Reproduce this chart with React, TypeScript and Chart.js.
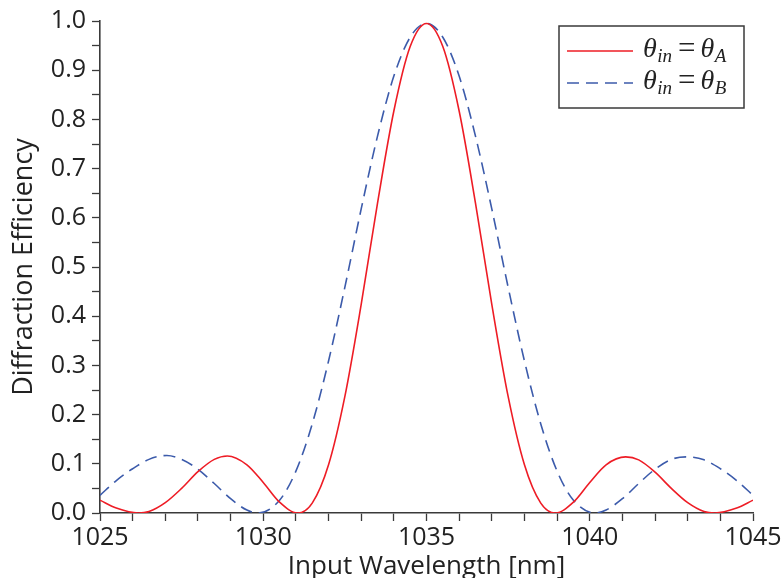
import React, { useEffect, useRef } from 'react';
import { Chart, registerables } from 'chart.js';

Chart.register(...registerables);

// Wavelength samples [nm] and diffraction efficiency
const redWavelength = [1025, 1025.5, 1026.17, 1026.5, 1027, 1027.5, 1028, 1028.5, 1028.9, 1029.5, 1030, 1030.5, 1031.05, 1031.5, 1032, 1032.5, 1033, 1033.5, 1034, 1034.5, 1035, 1035.5, 1036, 1036.5, 1037, 1037.5, 1038, 1038.5, 1038.95, 1039.5, 1040, 1040.5, 1041.1, 1041.5, 1042, 1042.5, 1043, 1043.5, 1043.83, 1044.5, 1045];
const redEfficiency = [0.026, 0.010, 0, 0.003, 0.021, 0.050, 0.084, 0.109, 0.116, 0.098, 0.062, 0.022, 0, 0.020, 0.098, 0.237, 0.424, 0.630, 0.817, 0.948, 0.995, 0.948, 0.817, 0.630, 0.424, 0.237, 0.098, 0.020, 0, 0.022, 0.062, 0.098, 0.114, 0.108, 0.083, 0.050, 0.021, 0.003, 0, 0.010, 0.026];

const blueWavelength = [1025, 1025.5, 1026, 1026.5, 1027.05, 1027.5, 1028, 1028.5, 1029, 1029.5, 1029.84, 1030.5, 1031, 1031.5, 1032, 1032.5, 1033, 1033.5, 1034, 1034.5, 1035, 1035.5, 1036, 1036.5, 1037, 1037.5, 1038, 1038.5, 1039, 1039.5, 1040.16, 1040.5, 1041, 1041.5, 1042, 1042.5, 1042.95, 1043.5, 1044, 1044.5, 1045];
const blueEfficiency = [0.036, 0.066, 0.090, 0.109, 0.117, 0.109, 0.089, 0.060, 0.029, 0.006, 0, 0.026, 0.085, 0.181, 0.309, 0.459, 0.618, 0.766, 0.888, 0.967, 0.995, 0.967, 0.888, 0.766, 0.618, 0.459, 0.309, 0.181, 0.085, 0.026, 0, 0.006, 0.029, 0.060, 0.089, 0.109, 0.114, 0.108, 0.090, 0.066, 0.036];

const seriesNames = ['θin = θA', 'θin = θB'];
const legendSubscripts = ['A', 'B'];

const xTitle = 'Input Wavelength [nm]';
const yTitle = 'Diffraction Efficiency';

const AXIS_COLOR = '#3a3a3a';
const TEXT_COLOR = '#222222';

export default function App() {
  const ref = useRef<HTMLCanvasElement>(null);

  useEffect(() => {
    const canvas = ref.current;
    if (!canvas) return;

    const legendPlugin = {
      id: 'mathLegend',
      afterDraw(chart: any) {
        const c = chart.ctx as CanvasRenderingContext2D;
        const area = chart.chartArea;
        const bw = 185;
        const bh = 82;
        const bx = area.right - 9 - bw;
        const by = area.top + 5;
        c.save();
        c.fillStyle = '#ffffff';
        c.fillRect(bx, by, bw, bh);
        c.strokeStyle = AXIS_COLOR;
        c.lineWidth = 1.5;
        c.strokeRect(bx, by, bw, bh);
        chart.data.datasets.forEach((ds: any, i: number) => {
          const ly = by + 25 + i * 32;
          c.save();
          c.strokeStyle = ds.borderColor;
          c.lineWidth = ds.borderWidth;
          c.setLineDash(ds.borderDash || []);
          c.beginPath();
          c.moveTo(bx + 8, ly);
          c.lineTo(bx + 74, ly);
          c.stroke();
          c.restore();

          const base = ly + 6;
          let x = bx + 84;
          c.fillStyle = TEXT_COLOR;
          c.textBaseline = 'alphabetic';
          c.textAlign = 'left';
          c.font = 'italic 28px "Liberation Serif"';
          c.fillText('θ', x, base);
          x += c.measureText('θ').width + 0.5;
          c.font = 'italic 19px "Liberation Serif"';
          c.fillText('in', x, base + 5);
          x += c.measureText('in').width + 6;
          c.font = '31px "Liberation Serif"';
          c.fillText('=', x, base + 1);
          x += c.measureText('=').width + 5;
          c.font = 'italic 28px "Liberation Serif"';
          c.fillText('θ', x, base);
          x += c.measureText('θ').width + 0.5;
          c.font = 'italic 19px "Liberation Serif"';
          c.fillText(legendSubscripts[i], x, base + 5);
        });
        c.restore();
      },
    };

    const chart = new Chart(canvas, {
      type: 'line',
      data: {
        datasets: [
          {
            label: seriesNames[0],
            data: redWavelength.map((x, i) => ({ x, y: redEfficiency[i] })),
            borderColor: '#ee1c25',
            borderWidth: 1.6,
            pointRadius: 0,
            fill: false,
            cubicInterpolationMode: 'monotone',
          },
          {
            label: seriesNames[1],
            data: blueWavelength.map((x, i) => ({ x, y: blueEfficiency[i] })),
            borderColor: '#3c5bab',
            borderWidth: 1.6,
            borderDash: [12, 7],
            pointRadius: 0,
            fill: false,
            cubicInterpolationMode: 'monotone',
          },
        ],
      },
      options: {
        responsive: false,
        animation: false,
        layout: { padding: { left: 0, right: 30, top: 21, bottom: 0 } },
        plugins: {
          legend: { display: false },
          tooltip: { enabled: false },
        },
        scales: {
          x: {
            type: 'linear',
            min: 1025,
            max: 1045,
            grid: {
              drawOnChartArea: false,
              drawTicks: true,
              tickLength: 8,
              tickWidth: 1.3,
              tickColor: AXIS_COLOR,
            },
            border: { display: true, color: AXIS_COLOR, width: 1.6 },
            ticks: {
              stepSize: 1,
              autoSkip: false,
              maxRotation: 0,
              padding: 2,
              color: TEXT_COLOR,
              font: { family: '"Open Sans"', size: 25 },
              callback: (v: any) => (Math.abs(v % 5) < 1e-6 ? String(v) : ''),
            },
            title: {
              display: true,
              text: xTitle,
              color: TEXT_COLOR,
              font: { family: '"Open Sans"', size: 26 },
              padding: { top: 0, bottom: -4 },
            },
            afterFit: (scale: any) => {
              scale.height = 65;
              scale.paddingLeft = 0;
              scale.paddingRight = 0;
            },
          },
          y: {
            type: 'linear',
            min: 0,
            max: 1,
            grid: {
              drawOnChartArea: false,
              drawTicks: true,
              tickLength: 8,
              tickWidth: 1.3,
              tickColor: AXIS_COLOR,
            },
            border: { display: true, color: AXIS_COLOR, width: 1.6 },
            ticks: {
              stepSize: 0.05,
              autoSkip: false,
              padding: 6,
              color: TEXT_COLOR,
              font: { family: '"Open Sans"', size: 25 },
              callback: (v: any) => {
                const t = v * 10;
                return Math.abs(t - Math.round(t)) < 1e-6 ? Number(v).toFixed(1) : '';
              },
            },
            title: {
              display: true,
              text: yTitle,
              color: TEXT_COLOR,
              font: { family: '"Open Sans"', size: 27 },
              padding: { top: 8, bottom: 0 },
            },
            afterFit: (scale: any) => {
              scale.width = 100;
              scale.paddingTop = 0;
              scale.paddingBottom = 0;
            },
          },
        },
      } as any,
      plugins: [legendPlugin],
    });

    return () => chart.destroy();
  }, []);

  return (
    <div style={{ position: 'absolute', left: 0, top: 0, width: 783, height: 578, background: '#ffffff' }}>
      <canvas ref={ref} width={783} height={578} style={{ display: 'block' }} />
    </div>
  );
}
